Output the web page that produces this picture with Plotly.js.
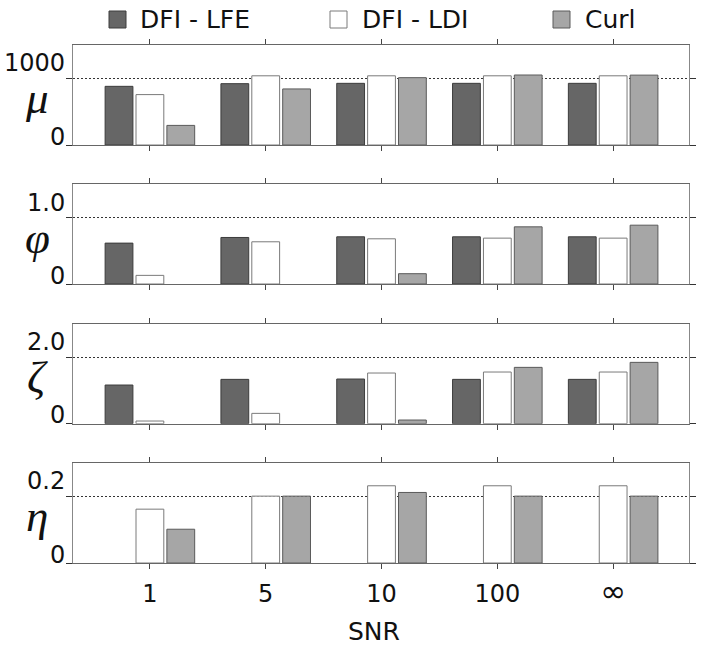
<!DOCTYPE html>
<html>
<head>
<meta charset="utf-8">
<script src="https://cdn.plot.ly/plotly-3.0.1.min.js"></script>
<style>html,body{margin:0;padding:0;background:#fff;}#chart{width:704px;height:649px;}</style>
</head>
<body>
<div id="chart"></div>
<script>
// ---- data ----
const categories = ['1', '5', '10', '100', '\u221E'];
const seriesNames = ['DFI - LFE', 'DFI - LDI', 'Curl'];

const muLFE  = [880, 920, 925, 925, 925];
const muLDI  = [756, 1038, 1038, 1038, 1038];
const muCurl = [294, 841, 1010, 1050, 1048];

const phiLFE  = [0.615, 0.70, 0.71, 0.71, 0.71];
const phiLDI  = [0.13, 0.635, 0.68, 0.69, 0.69];
const phiCurl = [null, null, 0.155, 0.86, 0.885];

const zetaLFE  = [1.16, 1.33, 1.34, 1.33, 1.33];
const zetaLDI  = [0.08, 0.31, 1.52, 1.55, 1.55];
const zetaCurl = [null, null, 0.11, 1.69, 1.84];

const etaLFE  = [null, null, null, null, null];
const etaLDI  = [0.161, 0.2, 0.231, 0.231, 0.231];
const etaCurl = [0.101, 0.2, 0.211, 0.2, 0.2];

const panelSymbols = ['\u03BC', '\u03C6', '\u03B6', '\u03B7'];
const refValues = [1000, 1.0, 2.0, 0.2];
const yMax = [1500, 1.5, 3.0, 0.3];
const yTickText = [['0', '1000'], ['0', '1.0'], ['0', '2.0'], ['0', '0.2']];
const xTitle = 'SNR';

// ---- styling ----
const W = 704, H = 649;
const M = {l: 73, r: 15, t: 45, b: 86};
const PW = W - M.l - M.r, PH = H - M.t - M.b;
const px2x = p => (p - M.l) / PW;
const py2y = p => (H - M.b - p) / PH;

const fills = ['#666666', '#ffffff', '#a6a6a6'];
const borders = ['#3c3c3c', '#7a7a7a', '#5a5a5a'];
const panelData = [
  [muLFE, muLDI, muCurl],
  [phiLFE, phiLDI, phiCurl],
  [zetaLFE, zetaLDI, zetaCurl],
  [etaLFE, etaLDI, etaCurl]
];
// panel pixel extents (top, bottom)
const panelPx = [[45, 145], [184.3, 284], [323.7, 423.7], [462.7, 563]];
const glyphCenterPx = [98, 238, 377, 516];

const traces = [];
panelData.forEach((series, pi) => {
  const sfx = pi === 0 ? '' : String(pi + 1);
  series.forEach((vals, si) => {
    traces.push({
      type: 'bar', x: categories, y: vals, name: seriesNames[si],
      xaxis: 'x' + sfx, yaxis: 'y' + sfx, showlegend: false,
      marker: {color: fills[si], line: {color: borders[si], width: 1}},
      hoverinfo: 'y'
    });
  });
});

// bottom tick text: the infinity sign is drawn a bit larger, as in the reference
const xTickText = categories.map(c => c === '\u221E' ? '<span style="font-size:31px">' + c + '</span>' : c);

const tickFont = {family: 'DejaVu Sans, Verdana, sans-serif', size: 24, color: '#111'};
const layout = {
  width: W, height: H, margin: M,
  paper_bgcolor: '#fff', plot_bgcolor: '#fff',
  barmode: 'group', bargap: 0.2, bargroupgap: 0.1,
  showlegend: false,
  font: tickFont,
  annotations: [], shapes: []
};

panelData.forEach((_, pi) => {
  const sfx = pi === 0 ? '' : String(pi + 1);
  const [top, bot] = panelPx[pi];
  layout['xaxis' + sfx] = {
    type: 'category', anchor: 'y' + sfx, domain: [0, 1],
    range: [-0.664, 4.655],
    tickvals: categories, ticktext: xTickText,
    showline: true, linecolor: '#666', linewidth: 1, mirror: 'ticks',
    ticks: 'outside', ticklen: 5, tickcolor: '#444', tickwidth: 1,
    showgrid: false, zeroline: false,
    showticklabels: pi === 3, tickfont: tickFont, ticklabelstandoff: 4,
    fixedrange: true
  };
  layout['yaxis' + sfx] = {
    anchor: 'x' + sfx, domain: [py2y(bot), py2y(top)],
    range: [0, yMax[pi]],
    tickvals: [0, refValues[pi]], showticklabels: false,
    ticks: 'outside', ticklen: 6, tickcolor: '#333', tickwidth: 1,
    showline: true, linecolor: '#888', linewidth: 1, mirror: 'ticks',
    showgrid: true, gridcolor: '#333', gridwidth: 1, griddash: '2px,2px',
    zeroline: false, fixedrange: true
  };
  // tick labels (drawn above their lines, as in the reference)
  yTickText[pi].forEach((t, k) => {
    layout.annotations.push({
      text: t, xref: 'paper', yref: 'y' + sfx,
      x: 0, y: k === 0 ? 0 : refValues[pi],
      xanchor: 'right', yanchor: 'middle', xshift: -6,
      yshift: k === 0 ? 8.5 : 15,
      showarrow: false, font: tickFont
    });
  });
  // greek symbol
  layout.annotations.push({
    text: '<i>' + panelSymbols[pi] + '</i>', xref: 'paper', yref: 'paper',
    x: px2x(37), y: py2y(glyphCenterPx[pi]), xanchor: 'center', yanchor: 'middle',
    showarrow: false, font: {family: 'Liberation Serif, Times New Roman, serif', size: 45, color: '#111'}
  });
});

// SNR axis title
layout.annotations.push({
  text: xTitle, xref: 'paper', yref: 'paper', x: px2x(374), y: py2y(631),
  xanchor: 'center', yanchor: 'middle', showarrow: false,
  font: {family: 'DejaVu Sans, Verdana, sans-serif', size: 25, color: '#111'}
});

// legend
const legSq = [109, 330, 553];
const legTx = [138, 360, 583];
seriesNames.forEach((n, i) => {
  layout.shapes.push({
    type: 'rect', xref: 'paper', yref: 'paper',
    x0: px2x(legSq[i]), x1: px2x(legSq[i] + 17), y0: py2y(28), y1: py2y(11),
    fillcolor: fills[i], line: {color: borders[i], width: 1}
  });
  layout.annotations.push({
    text: n, xref: 'paper', yref: 'paper', x: px2x(legTx[i]), y: py2y(20),
    xanchor: 'left', yanchor: 'middle', showarrow: false,
    font: {family: 'DejaVu Sans, Verdana, sans-serif', size: 25, color: '#111'}
  });
});

Plotly.newPlot('chart', traces, layout, {staticPlot: true});
</script>
</body>
</html>
